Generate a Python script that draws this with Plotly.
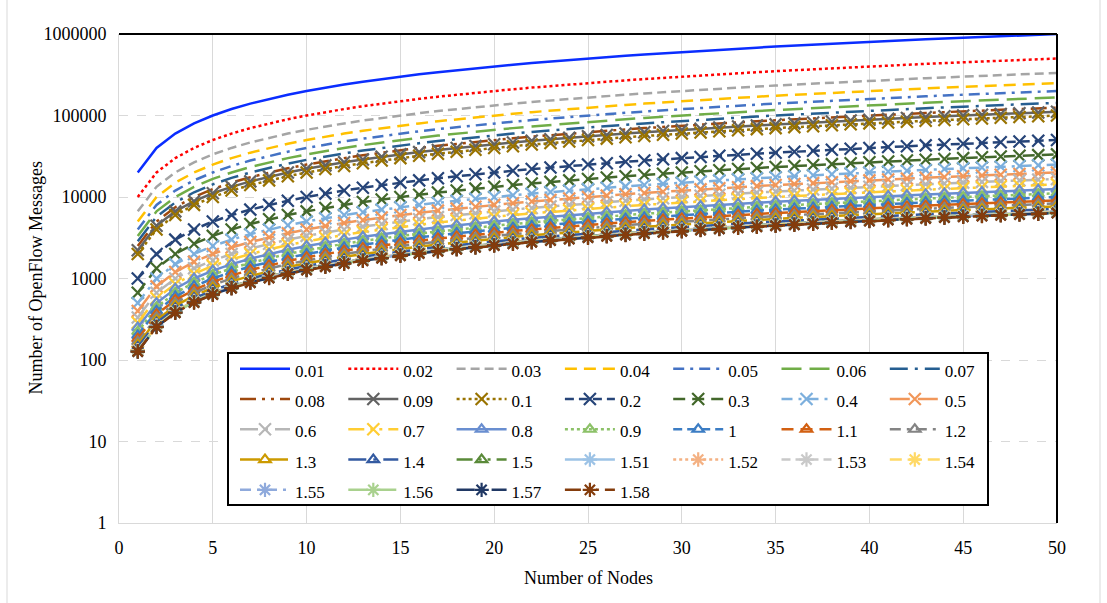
import plotly.graph_objects as go

# ---------------- data ----------------
nodes = [1, 2, 3, 4, 5, 6, 7, 8, 9, 10, 11, 12, 13, 14, 15, 16, 17, 18, 19, 20,
         21, 22, 23, 24, 25, 26, 27, 28, 29, 30, 31, 32, 33, 34, 35, 36, 37, 38, 39, 40,
         41, 42, 43, 44, 45, 46, 47, 48, 49, 50]

series_names = ["0.01", "0.02", "0.03", "0.04", "0.05", "0.06", "0.07", "0.08",
                "0.09", "0.1", "0.2", "0.3", "0.4", "0.5", "0.6", "0.7",
                "0.8", "0.9", "1", "1.1", "1.2", "1.3", "1.4", "1.5",
                "1.51", "1.52", "1.53", "1.54", "1.55", "1.56", "1.57", "1.58"]

msgs_0_01 = [20000, 40000, 60000, 80000, 100000, 120000, 140000, 160000, 180000, 200000, 220000, 240000, 260000, 280000, 300000, 320000, 340000, 360000, 380000, 400000, 420000, 440000, 460000, 480000, 500000, 520000, 540000, 560000, 580000, 600000, 620000, 640000, 660000, 680000, 700000, 720000, 740000, 760000, 780000, 800000, 820000, 840000, 860000, 880000, 900000, 920000, 940000, 960000, 980000, 1000000]
msgs_0_02 = [10000, 20000, 30000, 40000, 50000, 60000, 70000, 80000, 90000, 100000, 110000, 120000, 130000, 140000, 150000, 160000, 170000, 180000, 190000, 200000, 210000, 220000, 230000, 240000, 250000, 260000, 270000, 280000, 290000, 300000, 310000, 320000, 330000, 340000, 350000, 360000, 370000, 380000, 390000, 400000, 410000, 420000, 430000, 440000, 450000, 460000, 470000, 480000, 490000, 500000]
msgs_0_03 = [6667, 13333, 20000, 26667, 33333, 40000, 46667, 53333, 60000, 66667, 73333, 80000, 86667, 93333, 100000, 106667, 113333, 120000, 126667, 133333, 140000, 146667, 153333, 160000, 166667, 173333, 180000, 186667, 193333, 200000, 206667, 213333, 220000, 226667, 233333, 240000, 246667, 253333, 260000, 266667, 273333, 280000, 286667, 293333, 300000, 306667, 313333, 320000, 326667, 333333]
msgs_0_04 = [5000, 10000, 15000, 20000, 25000, 30000, 35000, 40000, 45000, 50000, 55000, 60000, 65000, 70000, 75000, 80000, 85000, 90000, 95000, 100000, 105000, 110000, 115000, 120000, 125000, 130000, 135000, 140000, 145000, 150000, 155000, 160000, 165000, 170000, 175000, 180000, 185000, 190000, 195000, 200000, 205000, 210000, 215000, 220000, 225000, 230000, 235000, 240000, 245000, 250000]
msgs_0_05 = [4000, 8000, 12000, 16000, 20000, 24000, 28000, 32000, 36000, 40000, 44000, 48000, 52000, 56000, 60000, 64000, 68000, 72000, 76000, 80000, 84000, 88000, 92000, 96000, 100000, 104000, 108000, 112000, 116000, 120000, 124000, 128000, 132000, 136000, 140000, 144000, 148000, 152000, 156000, 160000, 164000, 168000, 172000, 176000, 180000, 184000, 188000, 192000, 196000, 200000]
msgs_0_06 = [3333, 6667, 10000, 13333, 16667, 20000, 23333, 26667, 30000, 33333, 36667, 40000, 43333, 46667, 50000, 53333, 56667, 60000, 63333, 66667, 70000, 73333, 76667, 80000, 83333, 86667, 90000, 93333, 96667, 100000, 103333, 106667, 110000, 113333, 116667, 120000, 123333, 126667, 130000, 133333, 136667, 140000, 143333, 146667, 150000, 153333, 156667, 160000, 163333, 166667]
msgs_0_07 = [2857, 5714, 8571, 11429, 14286, 17143, 20000, 22857, 25714, 28571, 31429, 34286, 37143, 40000, 42857, 45714, 48571, 51429, 54286, 57143, 60000, 62857, 65714, 68571, 71429, 74286, 77143, 80000, 82857, 85714, 88571, 91429, 94286, 97143, 100000, 102857, 105714, 108571, 111429, 114286, 117143, 120000, 122857, 125714, 128571, 131429, 134286, 137143, 140000, 142857]
msgs_0_08 = [2500, 5000, 7500, 10000, 12500, 15000, 17500, 20000, 22500, 25000, 27500, 30000, 32500, 35000, 37500, 40000, 42500, 45000, 47500, 50000, 52500, 55000, 57500, 60000, 62500, 65000, 67500, 70000, 72500, 75000, 77500, 80000, 82500, 85000, 87500, 90000, 92500, 95000, 97500, 100000, 102500, 105000, 107500, 110000, 112500, 115000, 117500, 120000, 122500, 125000]
msgs_0_09 = [2222, 4444, 6667, 8889, 11111, 13333, 15556, 17778, 20000, 22222, 24444, 26667, 28889, 31111, 33333, 35556, 37778, 40000, 42222, 44444, 46667, 48889, 51111, 53333, 55556, 57778, 60000, 62222, 64444, 66667, 68889, 71111, 73333, 75556, 77778, 80000, 82222, 84444, 86667, 88889, 91111, 93333, 95556, 97778, 100000, 102222, 104444, 106667, 108889, 111111]
msgs_0_1 = [2000, 4000, 6000, 8000, 10000, 12000, 14000, 16000, 18000, 20000, 22000, 24000, 26000, 28000, 30000, 32000, 34000, 36000, 38000, 40000, 42000, 44000, 46000, 48000, 50000, 52000, 54000, 56000, 58000, 60000, 62000, 64000, 66000, 68000, 70000, 72000, 74000, 76000, 78000, 80000, 82000, 84000, 86000, 88000, 90000, 92000, 94000, 96000, 98000, 100000]
msgs_0_2 = [1000, 2000, 3000, 4000, 5000, 6000, 7000, 8000, 9000, 10000, 11000, 12000, 13000, 14000, 15000, 16000, 17000, 18000, 19000, 20000, 21000, 22000, 23000, 24000, 25000, 26000, 27000, 28000, 29000, 30000, 31000, 32000, 33000, 34000, 35000, 36000, 37000, 38000, 39000, 40000, 41000, 42000, 43000, 44000, 45000, 46000, 47000, 48000, 49000, 50000]
msgs_0_3 = [667, 1333, 2000, 2667, 3333, 4000, 4667, 5333, 6000, 6667, 7333, 8000, 8667, 9333, 10000, 10667, 11333, 12000, 12667, 13333, 14000, 14667, 15333, 16000, 16667, 17333, 18000, 18667, 19333, 20000, 20667, 21333, 22000, 22667, 23333, 24000, 24667, 25333, 26000, 26667, 27333, 28000, 28667, 29333, 30000, 30667, 31333, 32000, 32667, 33333]
msgs_0_4 = [500, 1000, 1500, 2000, 2500, 3000, 3500, 4000, 4500, 5000, 5500, 6000, 6500, 7000, 7500, 8000, 8500, 9000, 9500, 10000, 10500, 11000, 11500, 12000, 12500, 13000, 13500, 14000, 14500, 15000, 15500, 16000, 16500, 17000, 17500, 18000, 18500, 19000, 19500, 20000, 20500, 21000, 21500, 22000, 22500, 23000, 23500, 24000, 24500, 25000]
msgs_0_5 = [400, 800, 1200, 1600, 2000, 2400, 2800, 3200, 3600, 4000, 4400, 4800, 5200, 5600, 6000, 6400, 6800, 7200, 7600, 8000, 8400, 8800, 9200, 9600, 10000, 10400, 10800, 11200, 11600, 12000, 12400, 12800, 13200, 13600, 14000, 14400, 14800, 15200, 15600, 16000, 16400, 16800, 17200, 17600, 18000, 18400, 18800, 19200, 19600, 20000]
msgs_0_6 = [333, 667, 1000, 1333, 1667, 2000, 2333, 2667, 3000, 3333, 3667, 4000, 4333, 4667, 5000, 5333, 5667, 6000, 6333, 6667, 7000, 7333, 7667, 8000, 8333, 8667, 9000, 9333, 9667, 10000, 10333, 10667, 11000, 11333, 11667, 12000, 12333, 12667, 13000, 13333, 13667, 14000, 14333, 14667, 15000, 15333, 15667, 16000, 16333, 16667]
msgs_0_7 = [286, 571, 857, 1143, 1429, 1714, 2000, 2286, 2571, 2857, 3143, 3429, 3714, 4000, 4286, 4571, 4857, 5143, 5429, 5714, 6000, 6286, 6571, 6857, 7143, 7429, 7714, 8000, 8286, 8571, 8857, 9143, 9429, 9714, 10000, 10286, 10571, 10857, 11143, 11429, 11714, 12000, 12286, 12571, 12857, 13143, 13429, 13714, 14000, 14286]
msgs_0_8 = [250, 500, 750, 1000, 1250, 1500, 1750, 2000, 2250, 2500, 2750, 3000, 3250, 3500, 3750, 4000, 4250, 4500, 4750, 5000, 5250, 5500, 5750, 6000, 6250, 6500, 6750, 7000, 7250, 7500, 7750, 8000, 8250, 8500, 8750, 9000, 9250, 9500, 9750, 10000, 10250, 10500, 10750, 11000, 11250, 11500, 11750, 12000, 12250, 12500]
msgs_0_9 = [222, 444, 667, 889, 1111, 1333, 1556, 1778, 2000, 2222, 2444, 2667, 2889, 3111, 3333, 3556, 3778, 4000, 4222, 4444, 4667, 4889, 5111, 5333, 5556, 5778, 6000, 6222, 6444, 6667, 6889, 7111, 7333, 7556, 7778, 8000, 8222, 8444, 8667, 8889, 9111, 9333, 9556, 9778, 10000, 10222, 10444, 10667, 10889, 11111]
msgs_1_0 = [200, 400, 600, 800, 1000, 1200, 1400, 1600, 1800, 2000, 2200, 2400, 2600, 2800, 3000, 3200, 3400, 3600, 3800, 4000, 4200, 4400, 4600, 4800, 5000, 5200, 5400, 5600, 5800, 6000, 6200, 6400, 6600, 6800, 7000, 7200, 7400, 7600, 7800, 8000, 8200, 8400, 8600, 8800, 9000, 9200, 9400, 9600, 9800, 10000]
msgs_1_1 = [182, 364, 545, 727, 909, 1091, 1273, 1455, 1636, 1818, 2000, 2182, 2364, 2545, 2727, 2909, 3091, 3273, 3455, 3636, 3818, 4000, 4182, 4364, 4545, 4727, 4909, 5091, 5273, 5455, 5636, 5818, 6000, 6182, 6364, 6545, 6727, 6909, 7091, 7273, 7455, 7636, 7818, 8000, 8182, 8364, 8545, 8727, 8909, 9091]
msgs_1_2 = [167, 333, 500, 667, 833, 1000, 1167, 1333, 1500, 1667, 1833, 2000, 2167, 2333, 2500, 2667, 2833, 3000, 3167, 3333, 3500, 3667, 3833, 4000, 4167, 4333, 4500, 4667, 4833, 5000, 5167, 5333, 5500, 5667, 5833, 6000, 6167, 6333, 6500, 6667, 6833, 7000, 7167, 7333, 7500, 7667, 7833, 8000, 8167, 8333]
msgs_1_3 = [154, 308, 462, 615, 769, 923, 1077, 1231, 1385, 1538, 1692, 1846, 2000, 2154, 2308, 2462, 2615, 2769, 2923, 3077, 3231, 3385, 3538, 3692, 3846, 4000, 4154, 4308, 4462, 4615, 4769, 4923, 5077, 5231, 5385, 5538, 5692, 5846, 6000, 6154, 6308, 6462, 6615, 6769, 6923, 7077, 7231, 7385, 7538, 7692]
msgs_1_4 = [143, 286, 429, 571, 714, 857, 1000, 1143, 1286, 1429, 1571, 1714, 1857, 2000, 2143, 2286, 2429, 2571, 2714, 2857, 3000, 3143, 3286, 3429, 3571, 3714, 3857, 4000, 4143, 4286, 4429, 4571, 4714, 4857, 5000, 5143, 5286, 5429, 5571, 5714, 5857, 6000, 6143, 6286, 6429, 6571, 6714, 6857, 7000, 7143]
msgs_1_5 = [133, 267, 400, 533, 667, 800, 933, 1067, 1200, 1333, 1467, 1600, 1733, 1867, 2000, 2133, 2267, 2400, 2533, 2667, 2800, 2933, 3067, 3200, 3333, 3467, 3600, 3733, 3867, 4000, 4133, 4267, 4400, 4533, 4667, 4800, 4933, 5067, 5200, 5333, 5467, 5600, 5733, 5867, 6000, 6133, 6267, 6400, 6533, 6667]
msgs_1_51 = [132, 265, 397, 530, 662, 795, 927, 1060, 1192, 1325, 1457, 1589, 1722, 1854, 1987, 2119, 2252, 2384, 2517, 2649, 2781, 2914, 3046, 3179, 3311, 3444, 3576, 3709, 3841, 3974, 4106, 4238, 4371, 4503, 4636, 4768, 4901, 5033, 5166, 5298, 5430, 5563, 5695, 5828, 5960, 6093, 6225, 6358, 6490, 6623]
msgs_1_52 = [132, 263, 395, 526, 658, 789, 921, 1053, 1184, 1316, 1447, 1579, 1711, 1842, 1974, 2105, 2237, 2368, 2500, 2632, 2763, 2895, 3026, 3158, 3289, 3421, 3553, 3684, 3816, 3947, 4079, 4211, 4342, 4474, 4605, 4737, 4868, 5000, 5132, 5263, 5395, 5526, 5658, 5789, 5921, 6053, 6184, 6316, 6447, 6579]
msgs_1_53 = [131, 261, 392, 523, 654, 784, 915, 1046, 1176, 1307, 1438, 1569, 1699, 1830, 1961, 2092, 2222, 2353, 2484, 2614, 2745, 2876, 3007, 3137, 3268, 3399, 3529, 3660, 3791, 3922, 4052, 4183, 4314, 4444, 4575, 4706, 4837, 4967, 5098, 5229, 5359, 5490, 5621, 5752, 5882, 6013, 6144, 6275, 6405, 6536]
msgs_1_54 = [130, 260, 390, 519, 649, 779, 909, 1039, 1169, 1299, 1429, 1558, 1688, 1818, 1948, 2078, 2208, 2338, 2468, 2597, 2727, 2857, 2987, 3117, 3247, 3377, 3506, 3636, 3766, 3896, 4026, 4156, 4286, 4416, 4545, 4675, 4805, 4935, 5065, 5195, 5325, 5455, 5584, 5714, 5844, 5974, 6104, 6234, 6364, 6494]
msgs_1_55 = [129, 258, 387, 516, 645, 774, 903, 1032, 1161, 1290, 1419, 1548, 1677, 1806, 1935, 2065, 2194, 2323, 2452, 2581, 2710, 2839, 2968, 3097, 3226, 3355, 3484, 3613, 3742, 3871, 4000, 4129, 4258, 4387, 4516, 4645, 4774, 4903, 5032, 5161, 5290, 5419, 5548, 5677, 5806, 5935, 6065, 6194, 6323, 6452]
msgs_1_56 = [128, 256, 385, 513, 641, 769, 897, 1026, 1154, 1282, 1410, 1538, 1667, 1795, 1923, 2051, 2179, 2308, 2436, 2564, 2692, 2821, 2949, 3077, 3205, 3333, 3462, 3590, 3718, 3846, 3974, 4103, 4231, 4359, 4487, 4615, 4744, 4872, 5000, 5128, 5256, 5385, 5513, 5641, 5769, 5897, 6026, 6154, 6282, 6410]
msgs_1_57 = [127, 255, 382, 510, 637, 764, 892, 1019, 1146, 1274, 1401, 1529, 1656, 1783, 1911, 2038, 2166, 2293, 2420, 2548, 2675, 2803, 2930, 3057, 3185, 3312, 3439, 3567, 3694, 3822, 3949, 4076, 4204, 4331, 4459, 4586, 4713, 4841, 4968, 5096, 5223, 5350, 5478, 5605, 5732, 5860, 5987, 6115, 6242, 6369]
msgs_1_58 = [127, 253, 380, 506, 633, 759, 886, 1013, 1139, 1266, 1392, 1519, 1646, 1772, 1899, 2025, 2152, 2278, 2405, 2532, 2658, 2785, 2911, 3038, 3165, 3291, 3418, 3544, 3671, 3797, 3924, 4051, 4177, 4304, 4430, 4557, 4684, 4810, 4937, 5063, 5190, 5316, 5443, 5570, 5696, 5823, 5949, 6076, 6203, 6329]

series_values = [msgs_0_01, msgs_0_02, msgs_0_03, msgs_0_04, msgs_0_05, msgs_0_06, msgs_0_07, msgs_0_08,
                 msgs_0_09, msgs_0_1, msgs_0_2, msgs_0_3, msgs_0_4, msgs_0_5, msgs_0_6, msgs_0_7,
                 msgs_0_8, msgs_0_9, msgs_1_0, msgs_1_1, msgs_1_2, msgs_1_3, msgs_1_4, msgs_1_5,
                 msgs_1_51, msgs_1_52, msgs_1_53, msgs_1_54, msgs_1_55, msgs_1_56, msgs_1_57, msgs_1_58]

y_tick_values = [1, 10, 100, 1000, 10000, 100000, 1000000]
y_tick_labels = ["1", "10", "100", "1000", "10000", "100000", "1000000"]
x_tick_values = [0, 5, 10, 15, 20, 25, 30, 35, 40, 45, 50]

# ---------------- styles ----------------
colors = ["#0A2DFF", "#FF0000", "#A5A5A5", "#FFC000", "#4472C4", "#70AD47", "#255E91", "#9E480E",
          "#636363", "#997300", "#264478", "#43682B", "#7CAFDD", "#F1975A", "#B7B7B7", "#FFCD33",
          "#698ED0", "#8CC168", "#3C7DC4", "#D26012", "#848484", "#CC9A00", "#335AA1", "#5A8A39",
          "#9DC3E6", "#F4B183", "#C9C9C9", "#FFD966", "#8FAADC", "#A9D18E", "#203864", "#843C0C"]

D_SOLID = "solid"
D_ROUND = "3px,3px"
D_SQUARE = "9px,5px"
D_DASH = "12px,7px"
D_DASHDOT = "11px,6px,3px,6px"
D_LONG = "20px,8px"
D_LONGDOT = "18px,7px,3px,7px"
D_LONGDOTDOT = "16px,6px,3px,6px,3px,6px"
dash_cycle = [D_SOLID, D_ROUND, D_SQUARE, D_DASH, D_DASHDOT, D_LONG, D_LONGDOT, D_LONGDOTDOT]
marker_cycle = [None, "x-thin-open", "triangle-up-open", "asterisk-open"]
marker_size = {None: 0, "x-thin-open": 12, "triangle-up-open": 10, "asterisk-open": 12}

FONT = "Liberation Serif, Times New Roman, serif"

W, H = 1107, 603
ML, MR, MT, MB = 119, 50, 34, 80
PW, PH = W - ML - MR, H - MT - MB


def px_x(p):
    return (p - ML) / PW


def px_y(p):
    return (H - MB - p) / PH


fig = go.Figure()
NCOL = 7
for i, (name, vals) in enumerate(zip(series_names, series_values)):
    sym = marker_cycle[i // 8]
    col = i % NCOL
    legend_id = "legend" if col == 0 else "legend%d" % (col + 1)
    kw = dict(
        x=nodes, y=vals,
        name="<span style='font-size:17px'>%s</span>" % name,
        line=dict(color=colors[i], width=2.5, dash=dash_cycle[i % 8]),
        legend=legend_id,
    )
    if sym is None:
        kw["mode"] = "lines"
    else:
        kw["mode"] = "lines+markers"
        kw["marker"] = dict(symbol=sym, size=marker_size[sym], color=colors[i],
                            line=dict(color=colors[i], width=2.2))
    fig.add_trace(go.Scatter(**kw))

legend_layout = {}
for c in range(NCOL):
    key = "legend" if c == 0 else "legend%d" % (c + 1)
    legend_layout[key] = dict(
        x=px_x(235 + c * 108.3), y=px_y(348.5), xanchor="left", yanchor="top",
        orientation="v", itemwidth=50, traceorder="normal", tracegroupgap=0,
        bgcolor="rgba(0,0,0,0)", borderwidth=0,
        font=dict(family=FONT, size=21, color="#000000"),
    )

shapes = [
    # legend box
    dict(type="rect", xref="paper", yref="paper", x0=px_x(228), x1=px_x(988),
         y0=px_y(505), y1=px_y(353), line=dict(color="#000000", width=2),
         fillcolor="#FFFFFF", layer="above"),
    # top and right plot borders
    dict(type="line", xref="paper", yref="paper", x0=0, x1=1, y0=1, y1=1,
         line=dict(color="#000000", width=2), layer="above"),
    dict(type="line", xref="paper", yref="paper", x0=1, x1=1, y0=0, y1=1,
         line=dict(color="#000000", width=2), layer="above"),
    # chart frame
    dict(type="line", xref="paper", yref="paper", x0=px_x(7), x1=px_x(7), y0=px_y(0), y1=px_y(603),
         line=dict(color="#D9D9D9", width=1), layer="above"),
    dict(type="line", xref="paper", yref="paper", x0=px_x(1100), x1=px_x(1100), y0=px_y(0), y1=px_y(603),
         line=dict(color="#D9D9D9", width=1), layer="above"),
]

annotations = [
    dict(text="Number of Nodes", xref="paper", yref="paper", x=0.5, y=px_y(578),
         xanchor="center", yanchor="middle", showarrow=False,
         font=dict(family=FONT, size=18, color="#000000")),
    dict(text="Number of OpenFlow Messages", xref="paper", yref="paper", x=px_x(35), y=0.5,
         xanchor="center", yanchor="middle", showarrow=False, textangle=-90,
         font=dict(family=FONT, size=18, color="#000000")),
]

fig.update_layout(
    width=W, height=H,
    margin=dict(l=ML, r=MR, t=MT, b=MB, pad=0),
    paper_bgcolor="#FFFFFF", plot_bgcolor="#FFFFFF",
    font=dict(family=FONT, size=18, color="#000000"),
    showlegend=True,
    shapes=shapes,
    annotations=annotations,
    **legend_layout,
)
fig.update_xaxes(
    range=[0, 50], tickvals=x_tick_values, showgrid=True, gridcolor="#D9D9D9", gridwidth=1,
    zeroline=False, showline=True, linecolor="#D9D9D9", linewidth=1,
    ticks="outside", ticklen=8, tickcolor="rgba(0,0,0,0)",
    tickfont=dict(family=FONT, size=18, color="#000000"),
)
fig.update_yaxes(
    type="log", range=[0, 6], tickvals=y_tick_values, ticktext=y_tick_labels,
    showgrid=True, gridcolor="#D9D9D9", gridwidth=1, griddash="dash",
    zeroline=False, showline=True, linecolor="#D9D9D9", linewidth=1,
    ticks="outside", ticklen=8, tickcolor="rgba(0,0,0,0)",
    tickfont=dict(family=FONT, size=18, color="#000000"),
)

fig.write_html("out.html")
